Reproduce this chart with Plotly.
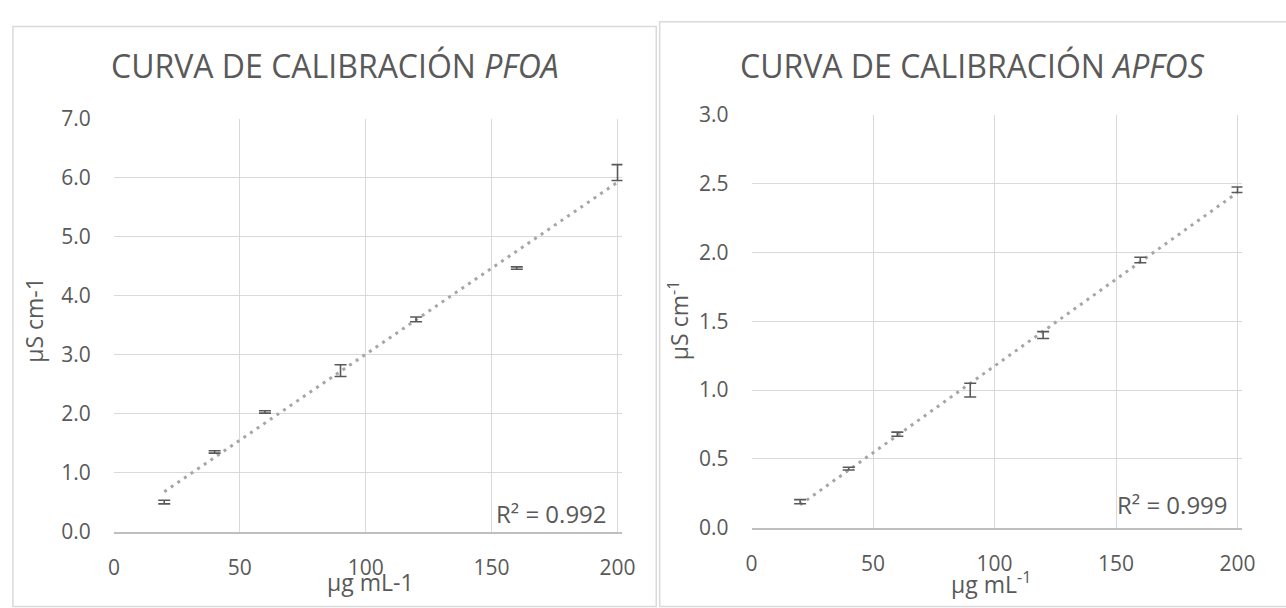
import numpy as np
import plotly.graph_objects as go

# ---------------- data ----------------
conc = [20, 40, 60, 90, 120, 160, 200]
pfoa_y = [0.50, 1.35, 2.03, 2.73, 3.60, 4.47, 6.09]
pfoa_err = [0.03, 0.02, 0.02, 0.10, 0.04, 0.02, 0.135]
apfos_y = [0.19, 0.43, 0.68, 1.00, 1.40, 1.945, 2.455]
apfos_err = [0.015, 0.01, 0.015, 0.05, 0.025, 0.02, 0.02]

x_ticks = [0, 50, 100, 150, 200]
pfoa_yticks = [0, 1, 2, 3, 4, 5, 6, 7]
apfos_yticks = [0, 0.5, 1.0, 1.5, 2.0, 2.5, 3.0]

titles = ["CURVA DE CALIBRACIÓN <i>PFOA</i>", "CURVA DE CALIBRACIÓN <i>APFOS</i>"]
x_titles = ["µg mL-1", "µg mL<sup>-1</sup>"]
y_titles = ["µS cm-1", "µS cm<sup>-1</sup>"]
r2_labels = ["R² = 0.992", "R² = 0.999"]

# ---------------- styling ----------------
W, H = 1286, 608
FONT = "Open Sans"
TXT = "#595959"
GRID = "#d9d9d9"


def px(x):
    return x / W


def py(y):
    return 1 - y / H


fig = go.Figure()

series = [(pfoa_y, pfoa_err, "x", "y"), (apfos_y, apfos_err, "x2", "y2")]
for yv, ev, xa, ya in series:
    slope, icpt = np.polyfit(conc, yv, 1)
    xs = np.array([min(conc), max(conc)])
    fig.add_trace(go.Scatter(
        x=xs, y=slope * xs + icpt, mode="lines", xaxis=xa, yaxis=ya,
        line=dict(color="#a6a6a6", width=3, dash="3px,5px"),
        hoverinfo="skip"))
    fig.add_trace(go.Scatter(
        x=conc, y=yv, mode="markers", xaxis=xa, yaxis=ya,
        marker=dict(size=1, color="rgba(0,0,0,0)"),
        error_y=dict(type="data", array=ev, visible=True, color="#595959",
                     thickness=1.6, width=6),
        cliponaxis=False))

ax_common = dict(showgrid=True, gridcolor=GRID, gridwidth=1.3, zeroline=False,
                 ticks="", tickfont=dict(family=FONT, size=21, color=TXT))

# plot-area pixel boxes: left, right edge, top, bottom, pixel of x=200
L1 = (109.5, 625.7, 109.0, 541.5, 620.7)
L2 = (756.7, 1255.0, 104.5, 537.6, 1250.0)


def xmax(box):
    return 200 * (box[1] - box[0]) / (box[4] - box[0])


fig.update_layout(
    width=W, height=H, margin=dict(l=0, r=0, t=0, b=0),
    paper_bgcolor="white", plot_bgcolor="white", showlegend=False,
    xaxis=dict(domain=[px(L1[0]), px(L1[1])], range=[0, xmax(L1)], tickvals=x_ticks,
               showline=True, linecolor="#bfbfbf", linewidth=1.5,
               ticklabelstandoff=16, anchor="y", **ax_common),
    yaxis=dict(domain=[py(L1[3]), py(L1[2])], range=[0, 7], tickvals=pfoa_yticks,
               tickformat=".1f", showline=False, ticklabelstandoff=22,
               anchor="x", **ax_common),
    xaxis2=dict(domain=[px(L2[0]), px(L2[1])], range=[0, xmax(L2)], tickvals=x_ticks,
                showline=True, linecolor="#bfbfbf", linewidth=1.5,
                ticklabelstandoff=16, anchor="y2", **ax_common),
    yaxis2=dict(domain=[py(L2[3]), py(L2[2])], range=[0, 3], tickvals=apfos_yticks,
                tickformat=".1f", showline=False, ticklabelstandoff=22,
                anchor="x2", **ax_common),
)

ann = []
# chart titles
ann.append(dict(text=titles[0], x=px(333.5), y=py(53), font=dict(size=32)))
ann.append(dict(text=titles[1], x=px(980.5), y=py(53), font=dict(size=32)))
# x-axis titles
ann.append(dict(text=x_titles[0], x=px(370), y=py(594), font=dict(size=23)))
ann.append(dict(text=x_titles[1], x=px(1000), y=py(595), font=dict(size=23)))
# y-axis titles
ann.append(dict(text=y_titles[0], x=px(29), y=py(320), textangle=-90, font=dict(size=23)))
ann.append(dict(text=y_titles[1], x=px(683), y=py(320), textangle=-90, font=dict(size=23)))
# R² labels
ann.append(dict(text=r2_labels[0], x=px(612), y=py(523), xanchor="right", font=dict(size=24)))
ann.append(dict(text=r2_labels[1], x=px(1242), y=py(513), xanchor="right", font=dict(size=24)))

for a in ann:
    a.setdefault("xanchor", "center")
    a["yanchor"] = "middle"
    a["xref"] = "paper"
    a["yref"] = "paper"
    a["showarrow"] = False
    a["font"] = dict(family=FONT, color=TXT, size=a["font"]["size"])
fig.update_layout(annotations=ann)

# chart-area borders
fig.add_shape(type="rect", xref="paper", yref="paper",
              x0=px(7), x1=px(660), y0=py(620), y1=py(12),
              line=dict(color=GRID, width=1.5), fillcolor="rgba(0,0,0,0)", layer="below")
fig.add_shape(type="rect", xref="paper", yref="paper",
              x0=px(663.5), x1=px(1300), y0=py(620), y1=py(7),
              line=dict(color=GRID, width=1.5), fillcolor="rgba(0,0,0,0)", layer="below")

fig.write_html("out.html")
